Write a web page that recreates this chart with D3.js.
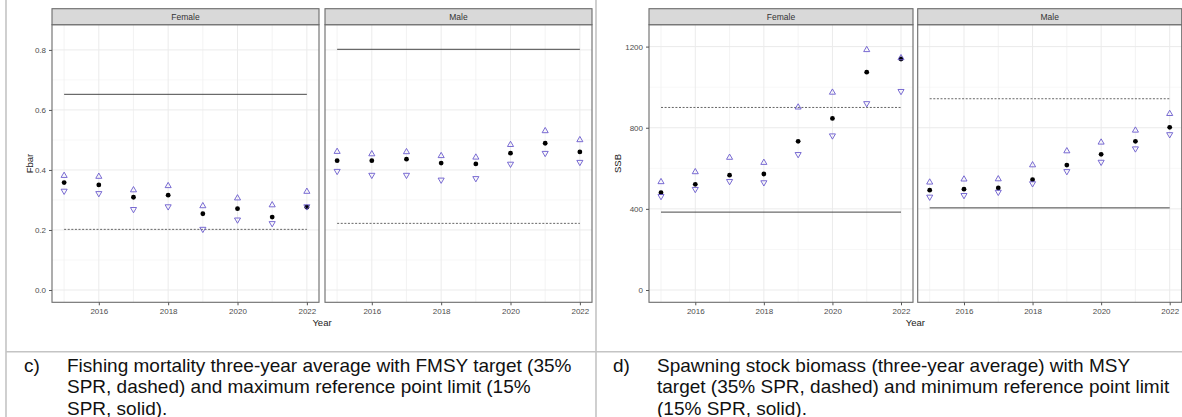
<!DOCTYPE html>
<html>
<head>
  <meta charset="utf-8">
  <script src="https://d3js.org/d3.v7.min.js"></script>
  <style>
    body { margin: 0; background: #fff; }
    svg { display: block; font-family: "Liberation Sans", Arial, sans-serif; }
    .tick text { fill: #4d4d4d; font-size: 8px; }
    .caption { font-size: 19px; fill: #111; }
  </style>
</head>
<body>
<script>
// ---- data ----
var years = [2015, 2016, 2017, 2018, 2019, 2020, 2021, 2022];
var sexes = ["Female", "Male"];

// Fbar (three-year average), point and upper / lower bounds
var fbarFemale      = [0.358, 0.350, 0.309, 0.316, 0.254, 0.271, 0.243, 0.276];
var fbarFemaleUpper = [0.381, 0.378, 0.333, 0.347, 0.280, 0.306, 0.283, 0.328];
var fbarFemaleLower = [0.330, 0.322, 0.269, 0.278, 0.203, 0.234, 0.222, 0.278];
var fbarMale        = [0.431, 0.431, 0.436, 0.423, 0.420, 0.456, 0.489, 0.460];
var fbarMaleUpper   = [0.461, 0.453, 0.460, 0.447, 0.442, 0.484, 0.530, 0.500];
var fbarMaleLower   = [0.396, 0.383, 0.383, 0.367, 0.372, 0.420, 0.456, 0.426];
var fbarTarget = [0.202, 0.222];   // 35% SPR, dashed
var fbarLimit  = [0.652, 0.802];   // 15% SPR, solid

// SSB (three-year average)
var ssbFemale      = [480, 521, 566, 572, 733, 846, 1074, 1139];
var ssbFemaleUpper = [533, 582, 653, 628, 901, 974, 1184, 1144];
var ssbFemaleLower = [462, 497, 536, 530, 669, 761, 920, 980];
var ssbMale        = [492, 497, 503, 544, 616, 669, 733, 802];
var ssbMaleUpper   = [531, 546, 547, 616, 685, 728, 787, 869];
var ssbMaleLower   = [459, 467, 483, 525, 585, 631, 697, 767];
var ssbTarget = [900, 943];
var ssbLimit  = [384, 405];

var fbarTicks = [0, 0.2, 0.4, 0.6, 0.8];
var ssbTicks = [0, 400, 800, 1200];
var yearTicks = [2016, 2018, 2020, 2022];

var captionC = ["Fishing mortality three-year average with FMSY target (35%",
                "SPR, dashed) and maximum reference point limit (15%",
                "SPR, solid)."];
var captionD = ["Spawning stock biomass (three-year average) with MSY",
                "target (35% SPR, dashed) and minimum reference point limit",
                "(15% SPR, solid)."];

var svg = d3.select("body").append("svg")
  .attr("width", 1182)
  .attr("height", 417);

// document table lines
var tableColor = "#c4c4c4";
svg.append("line").attr("x1", 6).attr("x2", 6).attr("y1", 0).attr("y2", 417)
  .attr("stroke", tableColor).attr("stroke-width", 1.6);
svg.append("line").attr("x1", 596).attr("x2", 596).attr("y1", 0).attr("y2", 417)
  .attr("stroke", tableColor).attr("stroke-width", 1.6);
svg.append("line").attr("x1", 6).attr("x2", 1182).attr("y1", 351.7).attr("y2", 351.7)
  .attr("stroke", tableColor).attr("stroke-width", 1.6);

function drawChart(cfg) {
  var top = 8.7, stripH = 16, bottom = 302.3;
  var y = d3.scaleLinear().domain(cfg.yDomain).range([bottom, top + stripH]);

  cfg.panels.forEach(function(p, pi) {
    var left = cfg.lefts[pi];
    var x = d3.scaleLinear().domain([2014.65, 2022.35]).range([left, left + cfg.width]);
    var g = svg.append("g");

    // grid: minor then major
    g.selectAll(".ymin").data(cfg.minorY).enter().append("line")
      .attr("x1", left).attr("x2", left + cfg.width)
      .attr("y1", function(d) { return y(d); }).attr("y2", function(d) { return y(d); })
      .attr("stroke", "#f2f2f2").attr("stroke-width", 0.6);
    g.selectAll(".xmin").data([2015, 2017, 2019, 2021]).enter().append("line")
      .attr("x1", function(d) { return x(d); }).attr("x2", function(d) { return x(d); })
      .attr("y1", top + stripH).attr("y2", bottom)
      .attr("stroke", "#f0f0f0").attr("stroke-width", 0.8);
    g.selectAll(".ymaj").data(cfg.yTicks).enter().append("line")
      .attr("x1", left).attr("x2", left + cfg.width)
      .attr("y1", function(d) { return y(d); }).attr("y2", function(d) { return y(d); })
      .attr("stroke", "#ebebeb").attr("stroke-width", 1);
    g.selectAll(".xmaj").data(yearTicks).enter().append("line")
      .attr("x1", function(d) { return x(d); }).attr("x2", function(d) { return x(d); })
      .attr("y1", top + stripH).attr("y2", bottom)
      .attr("stroke", "#ebebeb").attr("stroke-width", 1);

    // reference lines
    g.append("line")
      .attr("x1", x(years[0])).attr("x2", x(years[years.length - 1]))
      .attr("y1", y(p.limit)).attr("y2", y(p.limit))
      .attr("stroke", "#333").attr("stroke-width", 0.9);
    g.append("line")
      .attr("x1", x(years[0])).attr("x2", x(years[years.length - 1]))
      .attr("y1", y(p.target)).attr("y2", y(p.target))
      .attr("stroke", "#555").attr("stroke-width", 0.9)
      .attr("stroke-dasharray", "2,1.6");

    // points
    g.selectAll(".pt").data(p.mid).enter().append("circle")
      .attr("cx", function(d, i) { return x(years[i]); })
      .attr("cy", function(d) { return y(d); })
      .attr("r", 2.4).attr("fill", "#000");

    var tri = d3.symbol().type(d3.symbolTriangle).size(16);
    g.selectAll(".up").data(p.upper).enter().append("path")
      .attr("d", tri)
      .attr("transform", function(d, i) { return "translate(" + x(years[i]) + "," + y(d) + ")"; })
      .attr("fill", "none").attr("stroke", "#6a5acd").attr("stroke-width", 0.9);
    g.selectAll(".dn").data(p.lower).enter().append("path")
      .attr("d", tri)
      .attr("transform", function(d, i) { return "translate(" + x(years[i]) + "," + y(d) + ") rotate(180)"; })
      .attr("fill", "none").attr("stroke", "#6a5acd").attr("stroke-width", 0.9);

    // panel border and strip
    g.append("rect").attr("x", left).attr("y", top + stripH)
      .attr("width", cfg.width).attr("height", bottom - top - stripH)
      .attr("fill", "none").attr("stroke", "#6b6b6b").attr("stroke-width", 1.1);
    g.append("rect").attr("x", left).attr("y", top)
      .attr("width", cfg.width).attr("height", stripH)
      .attr("fill", "#d9d9d9").attr("stroke", "#6b6b6b").attr("stroke-width", 1.1);
    g.append("text").attr("x", left + cfg.width / 2).attr("y", top + stripH / 2 + 3)
      .attr("text-anchor", "middle").attr("font-size", 8.5).attr("fill", "#333")
      .text(sexes[pi]);

    // x axis
    var xAxis = d3.axisBottom(x).tickValues(yearTicks).tickFormat(d3.format("d"))
      .tickSize(3).tickPadding(3);
    var xg = g.append("g").attr("transform", "translate(0," + bottom + ")").call(xAxis);
    xg.select(".domain").remove();
    xg.selectAll(".tick line").attr("stroke", "#555");
    xg.selectAll(".tick text").attr("font-family", "Liberation Sans, Arial, sans-serif");

    if (pi === 0) {
      var yAxis = d3.axisLeft(y).tickValues(cfg.yTicks).tickFormat(cfg.yFormat)
        .tickSize(3).tickPadding(3);
      var yg = g.append("g").attr("transform", "translate(" + left + ",0)").call(yAxis);
      yg.select(".domain").remove();
      yg.selectAll(".tick line").attr("stroke", "#555");
      yg.selectAll(".tick text").attr("font-family", "Liberation Sans, Arial, sans-serif");
    }
  });

  var l0 = cfg.lefts[0], r1 = cfg.lefts[1] + cfg.width;
  svg.append("text")
    .attr("x", (l0 + r1) / 2).attr("y", 326)
    .attr("text-anchor", "middle").attr("font-size", 9.5).attr("fill", "#222")
    .text("Year");
  svg.append("text")
    .attr("transform", "translate(" + cfg.yTitleX + "," + ((top + stripH + bottom) / 2) + ") rotate(-90)")
    .attr("text-anchor", "middle").attr("font-size", 9.5).attr("fill", "#222")
    .text(cfg.yTitle);
}

drawChart({
  lefts: [52, 325], width: 267,
  yDomain: [-0.041, 0.884],
  yTicks: fbarTicks, minorY: [0.1, 0.3, 0.5, 0.7],
  yFormat: d3.format(".1f"),
  yTitle: "Fbar", yTitleX: 33,
  panels: [
    { mid: fbarFemale, upper: fbarFemaleUpper, lower: fbarFemaleLower, target: fbarTarget[0], limit: fbarLimit[0] },
    { mid: fbarMale, upper: fbarMaleUpper, lower: fbarMaleLower, target: fbarTarget[1], limit: fbarLimit[1] }
  ]
});

drawChart({
  lefts: [649, 917.7], width: 264,
  yDomain: [-60.6, 1308],
  yTicks: ssbTicks, minorY: [200, 600, 1000],
  yFormat: d3.format("d"),
  yTitle: "SSB", yTitleX: 621,
  panels: [
    { mid: ssbFemale, upper: ssbFemaleUpper, lower: ssbFemaleLower, target: ssbTarget[0], limit: ssbLimit[0] },
    { mid: ssbMale, upper: ssbMaleUpper, lower: ssbMaleLower, target: ssbTarget[1], limit: ssbLimit[1] }
  ]
});

// captions
function caption(label, lines, xLabel, xText) {
  var baselines = [371.7, 393.4, 415];
  svg.append("text").attr("class", "caption").attr("x", xLabel).attr("y", baselines[0]).text(label);
  svg.selectAll(null).data(lines).enter().append("text")
    .attr("class", "caption")
    .attr("x", xText)
    .attr("y", function(d, i) { return baselines[i]; })
    .text(function(d) { return d; });
}
caption("c)", captionC, 24, 67);
caption("d)", captionD, 613, 657);
</script>
</body>
</html>
